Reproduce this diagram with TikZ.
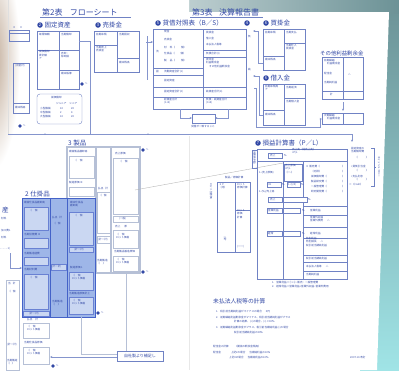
\documentclass[tikz,border=0pt]{standalone}
\usepackage{fontspec}
\setmainfont{Noto Sans CJK JP}
\usetikzlibrary{positioning,arrows.meta}

\definecolor{linec}{RGB}{112,130,196}
\definecolor{textc}{RGB}{50,72,165}
\definecolor{greyc}{RGB}{182,192,214}
\definecolor{bluefill}{RGB}{158,182,232}
\definecolor{blueedge}{RGB}{68,98,200}
\definecolor{tealdark}{RGB}{108,146,150}
\definecolor{teallight}{RGB}{160,228,230}
\definecolor{beige}{RGB}{190,168,148}

\tikzset{
    frm/.style={draw=linec, line width=0.4pt},
    pfrm/.style={draw=greyc, line width=1.3pt},
    conn/.style={draw=linec!85, line width=0.35pt},
    note/.style={font=\fontsize{2.6}{3.1}\selectfont, text=textc, inner sep=0pt, anchor=west, align=left},
    seclab/.style={font=\fontsize{6.5}{7}\selectfont, text=textc, inner sep=0pt, anchor=west},
    secdot/.style={circle, fill=textc, text=white, inner sep=0pt, minimum size=5.5pt, font=\fontsize{4}{4}\selectfont},
    ttl/.style={font=\fontsize{8}{9}\selectfont, text=textc, inner sep=0pt, anchor=west},
    gotodot/.style={circle, fill=textc, inner sep=0pt, minimum size=3.6pt},
    bluebox/.style={fill=bluefill!55!white, draw=blueedge!80, line width=0.4pt},
    arr/.style={-{Stealth[length=2.4pt,width=2pt]}}
}

\begin{document}
\begin{tikzpicture}[x=1pt, y=-1pt]

    % paper and desk
    \useasboundingbox (0,0) rectangle (399,370);
    \shade[top color=tealdark, bottom color=teallight] (360,0) rectangle (399,370);
    \shade[left color=tealdark!45!white, right color=tealdark] (188,0) rectangle (399,13);
    \fill[white] (0,0) -- (189,0) -- (189,12) -- (389,12) -- (377,370) -- (0,370) -- cycle;
    \shade[inner color=beige, outer color=white] (-8,60) ellipse (28 and 110);
    \draw[gray!25, line width=0.3pt] (8,0) -- (8,134);
    \draw[gray!18, line width=0.3pt] (189,136) -- (189,370);

    % ---------------- left sheet ----------------
    \node[ttl] (t2) at (42,12) {第2表\hspace{0.9em}フローシート};
    \draw[linec, line width=0.45pt] (40,17.5) -- (131,17.5);

    % scraps at the left edge
    \draw[frm] (9,30) rectangle (29,41);
    \draw[frm] (9,33) -- (29,33);
    \node[note] (s1) at (13,28) {Ⅱ\hspace{4pt}Ⅱ};
    \draw[frm] (13,63) rectangle (29,113);
    \draw[frm] (13,103) -- (29,103);
    \node[note] (s2) at (15,66) {(出金計)};
    \node[note] (s3) at (15,107) {期末残高};

    % 2 fixed assets
    \node[secdot] (d2) at (40,25) {2};
    \node[seclab, right=1.5pt of d2] (l2) {固定資産};
    \draw[frm] (37,31) rectangle (79,89);
    \draw[frm] (59,31) -- (59,89) (37,50) -- (79,50) (59,70) -- (79,70);
    \node[note] (fa1) at (39,35) {取得価額};
    \node[note] (fa2) at (61,35) {当期償却};
    \node[note] (fa3) at (39,55) {減価償却\\累計額\\ア};
    \node[note] (fa4) at (61,55) {売却・\\除却損};
    \node[note] (fa5) at (61,74) {期末帳簿};
    \draw[frm, rounded corners=3pt] (37,94) rectangle (82,124);
    \node[note] (dp0) at (51,98) {減価償却};
    \node[note] (dp1) at (56,104) {ジュニア\hspace{3pt}シニア};
    \foreach \y/\n/\a/\b in {109/小型機械/10/20, 113/中型機械/2/4, 117/大型機械/10/20}{
        \node[note] (dpa\y) at (40,\y) {\n};
        \node[note] (dpb\y) at (60,\y) {\a};
        \node[note] (dpc\y) at (71,\y) {\b};
    }

    % 3 accounts receivable
    \node[secdot] (d3) at (98,25) {3};
    \node[seclab, right=1.5pt of d3] (l3) {売掛金};
    \draw[frm] (94,31) rectangle (139,72);
    \draw[frm] (117,31) -- (117,72) (94,45) -- (117,45) (117,58) -- (139,58);
    \node[note] (ar1) at (96,35) {前期末残};
    \node[note] (ar2) at (119,35) {当期回収};
    \node[note] (ar3) at (96,49) {当期売上\\売掛金};
    \node[note] (ar4) at (119,62) {期末残高};

    % the long line across both sheets
    \coordinate (la) at (8,134);
    \coordinate (lb) at (352,134);
    \coordinate (lc) at (352,142);
    \draw[conn] (la) -- (lb);
    \draw[conn, arr] (lb) -- (lc);
    \fill[linec] (45,134) circle (0.7pt) (148,134) circle (0.7pt);
    \draw[conn] (79,41) -| (90,134);

    % 3 products
    \node[seclab] (l3p) at (68,143) {3 製品};
    \draw[pfrm] (67,198) -- (67,147) -- (140,147) -- (140,273) -- (96,273) -- (96,198);
    \draw[pfrm] (96,147) -- (96,198) (111,147) -- (111,273);
    \node[note] (p1) at (69,152) {期首製品棚卸高};
    \draw[greyc, line width=0.8pt] (69,156) rectangle (94,178);
    \node[note] (p2) at (74,161) {（\hspace{3pt}個};
    \node[note] (p3) at (69,183) {製造原価 ⊕};
    \draw[greyc, line width=0.8pt] (69,187) rectangle (94,196);
    \node[note] (p4) at (98,189) {払出\hspace{2pt}計};
    \draw[greyc, line width=0.8pt] (97,192) rectangle (110,233);
    \node[note] (p5) at (99,196) {（\hspace{2pt}個};
    \draw[greyc, line width=0.8pt] (97,236) rectangle (110,243);
    \node[note] (p6) at (98,239.5) {(計一計)};
    \node[note] (p7) at (97,262) {当期製造\\（\hspace{3pt}）};
    \node[note] (p8) at (115,154) {売上原価};
    \draw[greyc, line width=0.8pt] (113,158) rectangle (138,214);
    \node[note] (p9) at (119,162) {（\hspace{3pt}個};
    \draw[greyc, line width=0.8pt] (113,216) rectangle (138,222);
    \node[note] (p10) at (119,219) {(一般)};
    \node[note] (p11) at (115,227) {売上\hspace{4pt}原};
    \draw[greyc, line width=0.8pt] (113,230) rectangle (138,248);
    \node[note] (p12) at (116,236) {（\hspace{3pt}個\\ロット価格};
    \node[note] (p13) at (114,252) {当期製品製造原価};
    \draw[greyc, line width=0.8pt] (113,256) rectangle (138,271);
    \node[note] (p14) at (116,261) {（\hspace{3pt}個\\ロット価格};

    % 2 work in process
    \node[seclab] (l2w) at (25,194) {2 仕掛品};
    \fill[bluefill] (22,198) rectangle (95,317);
    \draw[blueedge, line width=0.9pt] (22,198) rectangle (95,317);
    \draw[blueedge, line width=0.5pt] (50,198) -- (50,317) (67,198) -- (67,317);
    \node[note] (w1) at (24,203) {期首仕掛品棚卸高};
    \draw[bluebox] (24,207) rectangle (48,230);
    \node[note] (w2) at (29,211) {（\hspace{3pt}個};
    \node[note] (w3) at (24,235) {当期労務費 ⊕};
    \draw[bluebox] (24,238) rectangle (48,248);
    \node[note] (w4) at (24,254) {当期製造経費};
    \draw[bluebox] (24,257) rectangle (48,265);
    \node[note] (w5) at (24,270) {当期材料費};
    \draw[bluebox] (24,274) rectangle (48,309);
    \node[note] (w6) at (29,278) {（\hspace{3pt}個};
    \draw[bluebox] (23,311) rectangle (49,316);
    \node[note] (w7) at (29,313.5) {(計一計)};
    \node[note] (w8) at (52,218) {払出\hspace{2pt}計};
    \node[note] (w9) at (53,224) {（\hspace{2pt}個};
    \draw[bluebox] (51,264) rectangle (66,270);
    \node[note] (w10) at (51.5,267) {(計一計)};
    \node[note] (w11) at (52,303) {当期製造\\（\hspace{3pt}）};
    \node[note] (w12) at (70,204) {期末仕掛品\\棚卸高};
    \draw[bluebox] (69,212) rectangle (93,245);
    \node[note] (w13) at (74,216) {（\hspace{3pt}個};
    \draw[bluebox] (69,247) rectangle (93,252);
    \node[note] (w14) at (74,249.5) {(計一計)};
    \node[note] (w15) at (70,268) {製造原価 1};
    \draw[bluebox] (69,272) rectangle (93,290);
    \node[note] (w16) at (72,277) {（\hspace{3pt}個\\ロット価格};
    \node[note] (w17) at (69,294) {当期製造原価計上};
    \draw[bluebox] (69,297) rectangle (93,314);
    \node[note] (w18) at (72,302) {（\hspace{3pt}個\\ロット価格};

    % below the work in process
    \node[note] (u1) at (27,320) {払出\hspace{3pt}計};
    \draw[frm, draw=greyc, line width=0.8pt] (23,323) rectangle (49,338);
    \node[note] (u2) at (27,328) {（\hspace{3pt}個\\ロット価格};
    \node[note] (u3) at (24,343) {当期仕掛品原価};
    \draw[frm, draw=greyc, line width=0.8pt] (23,347) rectangle (49,364);
    \node[note] (u4) at (27,352) {（\hspace{3pt}個\\ロット価格};

    % scraps at the left edge, lower
    \node[seclab] (l1m) at (2,210) {産};
    \node[note] (m1) at (1,219) {材料};
    \node[note] (m2) at (1,231) {加工費1};
    \node[note] (m3) at (1,238) {材料};
    \node[note] (m4) at (0,249) {- - - - - 1)};
    \draw[conn, arr] (10,253) |- (22,268);
    \draw[frm, draw=greyc, line width=0.8pt] (6,280) rectangle (19,370);
    \node[note] (m5) at (8,284) {当\hspace{2pt}計};
    \node[note] (m6) at (8,292) {（\hspace{2pt}個};
    \node[note] (m7) at (7,345) {(計一計)};
    \node[note] (m8) at (7,362) {当期製造\\（\hspace{2pt}）};

    % goto marks
    \foreach \x/\y [count=\i] in {20/126, 82/84, 143/150, 143/272, 98/313, 53/366}{
        \node[gotodot] (go\i) at (\x,\y) {};
        \node[note, right=0.6pt of go\i] (gt\i) {へ};
    }

    % supplement box and its lines
    \node[draw=linec, fill=white, font=\fontsize{4}{5}\selectfont, text=textc, inner sep=1pt,
          minimum width=46pt, minimum height=10pt] (supp) at (140,356) {自社製より補足し};
    \coordinate (sa) at (81,317);
    \coordinate (sb) at (126,273);
    \draw[greyc, line width=0.8pt] (sa) |- ([yshift=2pt]supp.west);
    \draw[greyc, line width=0.8pt] (sb) -- (sb |- supp.north);
    \draw[conn, arr] ([yshift=-1pt]supp.west) -- (50,357);

    % products to P/L
    \coordinate (pa) at (135,190);
    \coordinate (pb) at (283,163);
    \draw[gray!60, line width=0.35pt] (pa) -- (pb);

    % ---------------- right sheet ----------------
    \node[ttl] (t3) at (192,12) {第3表\hspace{0.8em}決算報告書};
    \draw[linec, line width=0.45pt] (190,17.5) -- (263,17.5);

    % 5 balance sheet
    \node[secdot] (d5) at (158,23) {5};
    \node[seclab, right=1.5pt of d5] (l5) {貸借対照表（B／S）};
    \node[secdot] (d4) at (247,23) {4};
    \draw[frm] (153,29) rectangle (246,109);
    \draw[frm] (203,29) -- (203,109);
    \draw[frm] (153,68) -- (203,68) (153,75) -- (203,75) (153,87) -- (203,87) (153,97) -- (246,97);
    \draw[frm] (203,50) -- (246,50) (203,57) -- (246,57) (203,87) -- (246,87);
    \node[note] (b1) at (164,32) {現金};
    \node[note] (b2) at (164,40) {売掛金};
    \node[note] (b3) at (164,48) {材\hspace{3pt}料（\hspace{6pt}個）};
    \node[note] (b4) at (164,54) {仕掛品（\hspace{6pt}個）};
    \node[note] (b5) at (164,61) {製\hspace{3pt}品（\hspace{6pt}個）};
    \node[note] (b6) at (164,71.5) {流動資産合計(1)};
    \node[note] (b7) at (164,81) {固定資産};
    \node[note] (b8) at (164,92) {固定資産合計(2)};
    \node[note] (b9) at (164,101) {総資産合計\\(1+2)};
    \node[note] (b10) at (156,52) {流};
    \node[note] (b11) at (156,72) {固};
    \node[note] (b12) at (206,33) {買掛金};
    \node[note] (b13) at (206,39) {借入金};
    \node[note] (b14) at (206,45) {未払法人税等};
    \node[note] (b15) at (206,53.5) {負債合計(3)};
    \node[note] (b16) at (206,63) {資本金\\利益剰余金\\\hspace{3pt}その他利益剰余金};
    \node[note] (b17) at (206,92) {純資産合計(4)};
    \node[note] (b18) at (206,101) {負債・純資産合計\\(3+4)};
    \node[note] (b19) at (248,37) {負};
    \node[note] (b20) at (248,70) {純};
    \draw[conn, arr] (146,42) -- (153,42);
    \draw[conn] (147,36) -- (147,80);

    % balance check
    \draw[frm] (192,114) rectangle (215,123);
    \draw[conn, arr] (180,109) |- (192,118);
    \draw[conn, arr] (228,109) |- (215,118);
    \node[note, anchor=center] (chk) at (203,127) {貸借が一致すること};

    % 6 accounts payable
    \node[secdot] (d6) at (266,23) {6};
    \node[seclab, right=1.5pt of d6] (l6) {買掛金};
    \draw[frm] (263,29) rectangle (305,70);
    \draw[frm] (284,29) -- (284,70) (263,56) -- (284,56) (284,43) -- (305,43);
    \node[note] (ap1) at (265,33) {前期末残};
    \node[note] (ap2) at (286,33) {当期支払};
    \node[note] (ap3) at (286,47) {当期仕入\\買掛金};
    \node[note] (ap4) at (265,60) {期末残高};
    \draw[conn, arr] (263,63) -| (258,31) -- (253,31);

    % 6 loans
    \node[secdot] (d6b) at (266,78) {6};
    \node[seclab, right=1.5pt of d6b] (l6b) {借入金};
    \draw[frm] (263,84) rectangle (305,125);
    \draw[frm] (284,84) -- (284,125) (263,110) -- (284,110) (284,98) -- (305,98);
    \node[note] (ln1) at (265,88) {前期末残高\\ア};
    \node[note] (ln2) at (286,88) {当期返済};
    \node[note] (ln3) at (286,102) {当期借入金};
    \node[note] (ln4) at (265,114) {期末残高};
    \draw[conn, arr] (263,115) -| (259,76) -- (253,76);

    % other retained earnings
    \node[seclab, font=\fontsize{5.4}{6}\selectfont] (lre) at (320,53) {その他利益剰余金};
    \draw[frm] (322,57) rectangle (363,99);
    \draw[frm] (343,57) -- (343,99) (322,91) -- (363,91);
    \node[note] (re1) at (324,62) {前期繰越\\\hspace{3pt}利益剰余金};
    \node[note] (re2) at (324,74) {配当金};
    \node[note] (re3) at (348,74) {△};
    \node[note] (re4) at (324,83) {当期純利益};
    \node[note] (re5) at (330,95) {計};
    \draw[conn, arr] (343,102) -- (343,111);
    \draw[frm] (322,113) rectangle (363,124);
    \draw[frm] (343,113) -- (343,124);
    \node[note] (re6) at (324,117) {次期繰越\\\hspace{3pt}利益剰余金};
    \draw[conn, arr] (254,88) -- (256,88) |- (320,127) |- (322,119);

    % 7 profit and loss
    \node[secdot] (d7) at (258,143) {7};
    \node[seclab, right=1.5pt of d7] (l7) {損益計算書（P／L）};
    \draw[frm] (257,149) rectangle (347,279);
    \draw[frm] (252,150) rectangle (257,168);
    \node[note, rotate=-90] (pl0) at (254.5,151) {当期純利益};
    \draw[frm] (268,153) rectangle (282,158);
    \node[note] (pl1) at (270,155.5) {売上};
    \node[note] (pl2) at (284,155.5) {\%};
    \node[note] (pl3) at (292,151.5) {売上高（純売上高）\\+P/L};
    \draw[frm] (257,161) -- (347,161);
    \draw[frm] (283,161) -- (283,279) (303,161) -- (303,279);
    \node[note] (pl4) at (259,173) {1-(売上原価)};
    \draw[frm, fill=white] (284,164) rectangle (302,181);
    \node[note] (pl5) at (285,169) {売上原価\\+P/L\\（一-）};
    \foreach \y/\t [count=\k] in {167/Ⅱ 販売費（, 172/\hspace{5pt}（内訳）, 177/\hspace{5pt}減価償却費（,
                                  182/\hspace{5pt}製品研究費（, 187/\hspace{5pt}一般管理費（, 192/\hspace{5pt}研究開発費（}{
        \node[note] (sg\k) at (306,\y) {\t};
        \node[note] (sh\k) at (342,\y) {）};
    }
    \draw[frm, fill=white] (267,182) rectangle (281,187);
    \node[note] (pl6) at (268,184.5) {ml};
    \node[note] (pl7) at (282,184.5) {\%};
    \draw[frm, fill=white] (287,182) rectangle (300,187);
    \node[note] (pl8) at (288,184.5) {1-(1/3)};
    \node[note] (pl9) at (301,184.5) {\%};
    \node[note] (pl10) at (259,192) {1-(\%)/売上高};
    \draw[frm, fill=white] (268,197) rectangle (282,202);
    \node[note] (pl11) at (270,199.5) {売上};
    \draw[frm, fill=white] (283,197) rectangle (307,202);
    \node[note] (pl12) at (308,199.5) {\%};
    \draw[frm, fill=white] (267,208) rectangle (282,213);
    \node[note] (pl13) at (268,210.5) {営業利益};
    \draw[frm, fill=white] (283,208) rectangle (300,213);
    \node[note] (pl14) at (302,210.5) {\%};
    \draw[frm] (303,206) -- (347,206) (303,215) -- (347,215);
    \node[note] (pl15) at (310,210.5) {営業利益};
    \node[note] (pl16) at (310,219) {営業外収益\\営業外費用\hspace{4pt}△};
    \draw[frm] (303,227) -- (347,227);
    \draw[frm, fill=white] (267,231) rectangle (282,236);
    \node[note] (pl17) at (268,233.5) {経常};
    \draw[frm, fill=white] (283,231) rectangle (300,236);
    \node[note] (pl18) at (302,233.5) {\%};
    \node[note] (pl19) at (310,233.5) {経常利益};
    \draw[frm] (303,238) -- (347,238);
    \node[note] (pl20) at (306,242) {特別利益\\特別損失\hspace{4pt}△\\税引前当期純利益};
    \draw[frm] (303,255) -- (347,255) (303,262) -- (347,262) (303,271) -- (347,271);
    \node[note] (pl21) at (306,258.5) {税引前当期純利益};
    \node[note] (pl22) at (306,266.5) {未払法人税等\hspace{4pt}△};
    \node[note] (pl23) at (306,275) {当期純利益};
    \node[note] (pl24) at (272,283) {1.\hspace{2pt}営業利益＝①+②−販売・一般管理費};
    \node[note] (pl25) at (272,287) {2.\hspace{2pt}経常利益＝営業利益+営業外収益−営業外費用};

    % lot cost table
    \node[note] (lt0) at (225,178) {製品／原価計算};
    \draw[frm] (217,182) rectangle (250,252);
    \draw[frm] (235,182) -- (235,252) (235,210) -- (250,210);
    \node[note] (lt1) at (219,186) {１Ｆ\\（月）};
    \node[note] (lt2) at (237,186) {ロット\\原価計算};
    \node[note] (lt3) at (237,214) {ロット\\原価\\計算};
    \node[note] (lt4) at (237,247) {(一一)};
    \node[note, rotate=-90] (lt5) at (211,183) {ロット別原価};
    \node[note, rotate=-90] (lt6) at (225,236) {小計};

    % cash flow bracket
    \node[note] (cf1) at (351,150) {固定資産の\\当期償却費};
    \node[note] (cf2) at (355,158) {（\hspace{8pt}）};
    \node[note] (cf3) at (351,167) {+貸倒引当金};
    \node[note] (cf4) at (355,171) {（\hspace{8pt}）};
    \node[note] (cf5) at (351,176) {+支払利息};
    \node[note] (cf6) at (355,180) {（\hspace{8pt}）};
    \node[note] (cf7) at (349,185) {＝（Cash）};
    \draw[frm] (371,148) -- (374,148) -- (374,186) -- (371,186) (374,167) -- (376,167);
    \node[note, rotate=-90] (cf8) at (379,156) {キャッシュフロー};

    % unpaid corporate tax
    \node[seclab, font=\fontsize{5.8}{6}\selectfont] (ltx) at (213,301) {未払法人税等の計算};
    \node[note] (tx1) at (216,312) {1.\hspace{2pt}税引前当期純利益がマイナスの場合\hspace{4pt}0円};
    \node[note] (tx2) at (216,317.5) {2.\hspace{2pt}前期繰越利益剰余金がマイナス、税引前当期純利益がプラス};
    \node[note] (tx3) at (234,322) {計算の結果、(+)の場合、(+)×30\%};
    \node[note] (tx4) at (216,328) {3.\hspace{2pt}前期繰越利益剰余金がプラス、税引前当期純利益(+)の場合};
    \node[note] (tx5) at (234,333) {税引前当期純利益の30\%};
    \node[note] (tx6) at (213,347) {配当金の計算\hspace{6pt}（期首の剰余金残高）};
    \node[note] (tx7) at (213,353) {配当金\hspace{10pt}上記2の場合\hspace{4pt}当期純利益の10\%};
    \node[note] (tx8) at (229,357.5) {上記3の場合\hspace{4pt}当期純利益の10\%};
    \node[note] (tx9) at (350,357.5) {2007.10.改訂};

\end{tikzpicture}
\end{document}
